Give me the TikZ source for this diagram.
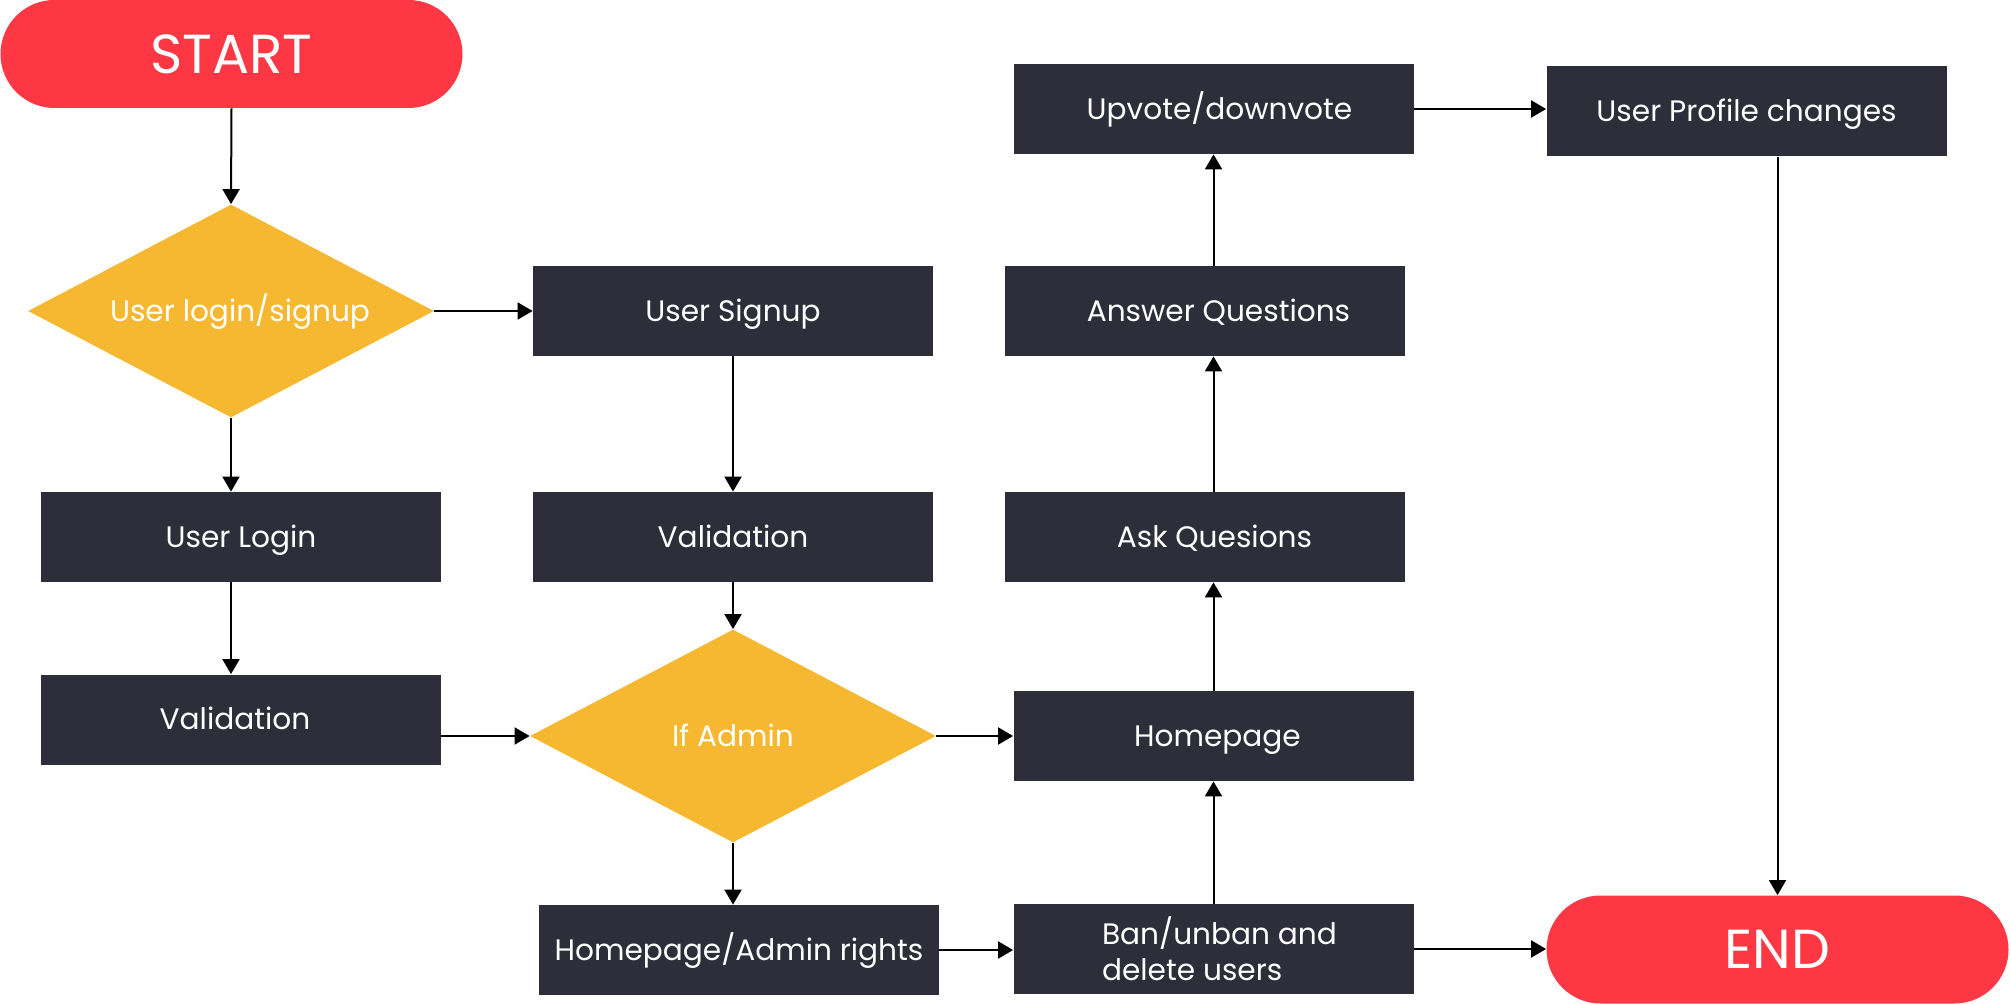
\documentclass[tikz,border=0pt]{standalone}
\usepackage{fontspec}
\setmainfont{Poppins}
\usetikzlibrary{arrows.meta,shapes.geometric}
\definecolor{termred}{RGB}{253,55,67}
\definecolor{decyellow}{RGB}{245,184,48}
\definecolor{procdark}{RGB}{46,46,58}
% \nudge{d}{text}: keep the box in place, move its text d to the right
\newcommand\nudge[2]{\hspace*{#1}#2}
\tikzset{
  label font/.style={font=\fontsize{14.8}{18}\selectfont, text height=10.4pt, text depth=0pt},
  procbox/.style={fill=procdark, text=white, minimum width=200pt, minimum height=45pt,
    inner sep=0pt, label font},
  decision/.style={diamond, aspect=1.9, fill=decyellow, text=white, inner sep=0pt,
    minimum width=203pt, minimum height=106.5pt, label font},
  terminal/.style={fill=termred, text=white, rounded corners=27pt, inner sep=0pt,
    minimum width=231pt, minimum height=54pt, font=\fontsize{27.5}{32}\selectfont,
    text height=19.3pt, text depth=0pt},
  flow/.style={line width=1pt, -{Triangle[length=7.5pt,width=8.5pt]}}
}
\begin{document}
\begin{tikzpicture}[x=0.5pt,y=-0.5pt]
  \useasboundingbox (0,0) rectangle (2011,1004);

  % terminals
  \node[terminal] (start) at (231.5,54) {START};
  \node[terminal] (finish) at (1777.5,949.5) {END};

  % decisions
  \node[decision] (choice) at (231,311) {\nudge{9pt}{User login/signup}};
  \node[decision] (admin) at (733,736) {If Admin};

  % process steps
  \node[procbox] (signup) at (733,311) {User Signup};
  \node[procbox] (login) at (241,537) {User Login};
  \node[procbox] (valL) at (241,719.5) {Validation\hspace*{6pt}};
  \node[procbox] (valM) at (733,537) {Validation};
  \node[procbox] (rights) at (739,950) {Homepage/Admin rights};
  \node[procbox, align=left, text height={}, text depth={}] (ban) at (1213.5,949)
    {\nudge{6pt}{Ban/unban and}\\\nudge{6pt}{delete users}};
  \node[procbox] (home) at (1213.5,736) {\nudge{4pt}{Homepage}};
  \node[procbox] (ask) at (1204.5,537) {\nudge{10pt}{Ask Quesions}};
  \node[procbox] (answer) at (1204.5,311) {\nudge{14pt}{Answer Questions}};
  \node[procbox] (vote) at (1213.5,109) {\nudge{6pt}{Upvote/downvote}};
  \node[procbox] (profile) at (1746.5,111.5) {User Profile changes};

  % connectors
  \draw[flow] (start.south) -- (choice.north);
  \draw[flow] (choice.east) -- (signup.west);
  \draw[flow] (choice.south) -- (choice.south |- login.north);
  \draw[flow] (choice.south |- login.south) -- (choice.south |- valL.north);
  \draw[flow] (valL.east |- admin.west) -- (admin.west);
  \draw[flow] (signup.south) -- (valM.north);
  \draw[flow] (valM.south) -- (admin.north);
  \draw[flow] (admin.east) -- (home.west);
  \draw[flow] (admin.south) -- (admin.south |- rights.north);
  \draw[flow] (rights.east) -- (rights.east -| ban.west);
  \draw[flow] (ban.north) -- (home.south);
  \draw[flow] (home.north) -- (home.north |- ask.south);
  \draw[flow] (home.north |- ask.north) -- (home.north |- answer.south);
  \draw[flow] (home.north |- answer.north) -- (vote.south);
  \draw[flow] (vote.east) -- (vote.east -| profile.west);
  \draw[flow] (finish.north |- profile.south) -- (finish.north);
  \draw[flow] (ban.east) -- (ban.east -| finish.west);
\end{tikzpicture}
\end{document}
